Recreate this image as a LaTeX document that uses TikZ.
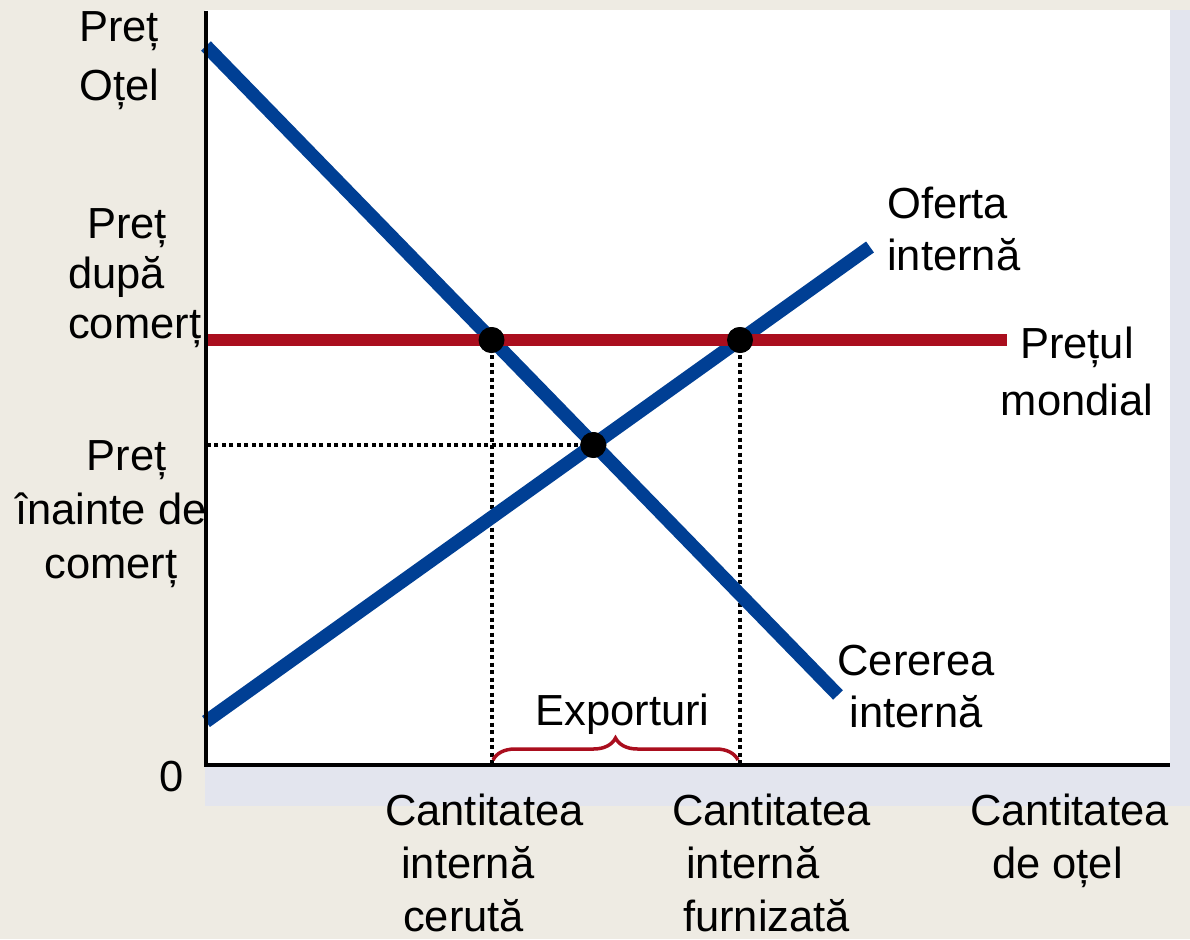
\documentclass[tikz,border=0pt]{standalone}
\usepackage{fontspec}
\setmainfont{Liberation Sans}
\usetikzlibrary{decorations.pathreplacing}
\definecolor{bg}{HTML}{EEEBE3}
\definecolor{shadowc}{HTML}{E3E5EE}
\definecolor{curvec}{HTML}{003F94}
\definecolor{worldc}{HTML}{AA0E1E}
\begin{document}
\begin{tikzpicture}[x=1pt,y=-1pt,
  lbl/.style={inner sep=0pt, font=\fontsize{43.5}{54}\selectfont},
  axisline/.style={line width=3.5pt, black},
  curve/.style={line width=13.5pt, curvec},
  worldline/.style={line width=12pt, worldc},
  dotline/.style={line width=4pt, black, dash pattern=on 4pt off 3.5pt},
  eqdot/.style={circle, fill=black, minimum size=26pt, inner sep=0pt},
  bracestyle/.style={line width=3.5pt, worldc, decorate, decoration={brace, amplitude=22pt, aspect=0.5}}]
\fill[bg] (0,0) rectangle (1190,939);
\useasboundingbox (0,0) rectangle (1190,939);
\fill[shadowc] (205,10) rectangle (1190,806);
\fill[white] (205,10) rectangle (1170,765);
% axes
\coordinate (O) at (206,765);
\coordinate (ytop) at (206,11);
\coordinate (xend) at (1170,765);
% curve end points
\coordinate (d1) at (206,46);
\coordinate (d2) at (838,695);
\coordinate (s1) at (206,721.5);
\coordinate (s2) at (870,247);
\coordinate (w1) at (206,340);
\coordinate (w2) at (1007,340);
% equilibrium points
\node[eqdot] (A) at (491.5,340) {};
\node[eqdot] (B) at (740,340) {};
\node[eqdot] (E) at (593.3,445) {};
% dotted guides
\draw[dotline] (A.center) -- (A.center |- O);
\draw[dotline] (B.center) -- (B.center |- O);
\draw[dotline] (E.center) -- (E.center -| O);
% curves
\draw[curve] (d1) -- (d2);
\draw[curve] (s1) -- (s2);
\draw[worldline] (w1) -- (w2);
\draw[axisline] (ytop) -- (O) -- (xend);
% dots on top
\node[eqdot] at (A) {};
\node[eqdot] at (B) {};
\node[eqdot] at (E) {};
% brace
\coordinate (b1) at (493,760);
\coordinate (b2) at (738,760);
\draw[bracestyle] (b1) -- (b2);
% labels (anchor base = baseline of last line)
\node[lbl, anchor=base west, align=left, font=\fontsize{43.5}{59}\selectfont] (ylab) at (79,101) {Preț\\Oțel};
\node[lbl, anchor=base west, align=left, font=\fontsize{43.5}{50}\selectfont] (pafter) at (68,338) {\hspace*{19pt}Preț\\după\\comerț};
\node[lbl, anchor=base, align=center] (pbefore) at (111,578) {\hspace*{31pt}Preț\\înainte de\\comerț};
\node[lbl, anchor=base west, align=left, font=\fontsize{43.5}{52}\selectfont] (supl) at (887,270) {Oferta\\internă};
\node[lbl, anchor=base, align=center, font=\fontsize{43.5}{57}\selectfont] (worldl) at (1077,415) {Prețul\\mondial};
\node[lbl, anchor=base, align=center, font=\fontsize{43.5}{52}\selectfont] (deml) at (916,727) {Cererea\\internă};
\node[lbl, anchor=base] (exp) at (622.5,725) {Exporturi};
\node[lbl, anchor=base] (zero) at (172,791) {0};
\node[lbl, anchor=base west, align=left, font=\fontsize{43.5}{53}\selectfont] (qd) at (385,931) {Cantitatea\\\hspace*{16pt}internă\\\hspace*{18pt}cerută};
\node[lbl, anchor=base west, align=left, font=\fontsize{43.5}{53}\selectfont] (qs) at (672,931) {Cantitatea\\\hspace*{14pt}internă\\\hspace*{11pt}furnizată};
\node[lbl, anchor=base west, align=left, font=\fontsize{43.5}{53}\selectfont] (qx) at (970,878) {Cantitatea\\\hspace*{22pt}de oțel};
\end{tikzpicture}
\end{document}
